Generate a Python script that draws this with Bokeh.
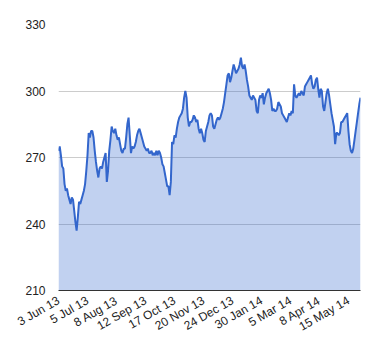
import math
from bokeh.plotting import figure
from bokeh.models import FixedTicker, Range1d, ColumnDataSource
from bokeh.embed import file_html
from bokeh.resources import INLINE

# Daily closes, 3 Jun 2013 .. 30 May 2014 (251 trading days)
prices = [
    273, 275, 271, 266, 265, 258, 255, 256, 253, 251, 249, 252, 251, 246, 241, 237, 243, 250, 249, 251, 253, 255, 258, 264,
    271, 281, 279, 282, 282, 279, 273, 268, 264, 261, 265, 266, 265, 268, 270, 272, 259, 264, 273, 278, 284, 282, 281, 283,
    280, 278, 279, 276, 273, 272, 274, 274, 279, 285, 288, 280, 272, 275, 274, 275, 277, 280, 282, 283, 281, 279, 277, 275,
    274, 273, 274, 272, 272, 273, 271, 272, 271, 273, 271, 273, 272, 270, 267, 266, 263, 260, 257, 257, 253, 259, 277, 276,
    280, 279, 283, 286, 288, 289, 290, 292, 297, 300, 297, 288, 284, 286, 286, 287, 289, 288, 286, 287, 283, 281, 283, 281,
    278, 277, 282, 284, 286, 289, 290, 289, 284, 283, 285, 287, 288, 287, 288, 290, 292, 295, 299, 303, 307, 308, 304, 306,
    309, 312, 310, 308, 309, 310, 312, 315, 311, 310, 312, 309, 305, 302, 298, 297, 296, 298, 297, 296, 291, 290, 296, 298,
    297, 299, 294, 297, 299, 300, 301, 299, 296, 291, 292, 291, 291, 292, 295, 294, 293, 290, 289, 288, 287, 286, 288, 290,
    289, 291, 290, 303, 298, 297, 298, 299, 298, 300, 299, 298, 302, 303, 304, 305, 306, 307, 303, 301, 302, 305, 306, 301,
    297, 301, 300, 293, 291, 295, 299, 301, 298, 294, 290, 287, 284, 276, 281, 281, 280, 281, 286, 286, 287, 288, 289, 290,
    282, 276, 273, 272, 274, 278, 282, 286, 290, 294, 297,
]
day_index = list(range(len(prices)))

tick_positions = [0, 24, 48, 72, 96, 120, 144, 168, 192, 216, 240]
tick_labels = ["3 Jun 13", "5 Jul 13", "8 Aug 13", "12 Sep 13", "17 Oct 13", "20 Nov 13",
               "24 Dec 13", "30 Jan 14", "5 Mar 14", "8 Apr 14", "15 May 14"]
y_ticks = [210, 240, 270, 300, 330]

src = ColumnDataSource(dict(x=day_index, y=prices, base=[y_ticks[0]] * len(prices)))

p = figure(width=372, height=352, output_backend="svg", toolbar_location=None,
           x_range=Range1d(0, len(prices) - 1), y_range=Range1d(y_ticks[0], y_ticks[-1]),
           min_border_left=58, min_border_right=12, min_border_top=24, min_border_bottom=62)
p.outline_line_color = None
p.background_fill_color = "white"
p.border_fill_color = "white"

p.varea(x="x", y1="base", y2="y", source=src, fill_color="#3366cc", fill_alpha=0.3)
p.line(x="x", y="y", source=src, line_color="#3366cc", line_width=2)

# y axis
p.yaxis.ticker = FixedTicker(ticks=y_ticks, minor_ticks=[])
p.yaxis.axis_line_color = None
p.yaxis.major_tick_line_color = None
p.yaxis.minor_tick_line_color = None
p.yaxis.major_tick_out = 0
p.yaxis.major_label_standoff = 13
p.yaxis.major_label_text_font = "Liberation Sans"
p.yaxis.major_label_text_font_size = "12px"
p.yaxis.major_label_text_color = "#222222"

p.ygrid.ticker = FixedTicker(ticks=y_ticks)
p.ygrid.grid_line_color = "#cccccc"
p.xgrid.grid_line_color = None

# x axis
p.xaxis.ticker = FixedTicker(ticks=tick_positions, minor_ticks=[])
p.xaxis.major_label_overrides = {t: l for t, l in zip(tick_positions, tick_labels)}
p.xaxis.major_label_orientation = math.pi / 6
p.xaxis.axis_line_color = "#333333"
p.xaxis.axis_line_width = 1
p.xaxis.major_tick_line_color = None
p.xaxis.minor_tick_line_color = None
p.xaxis.major_tick_out = 0
p.xaxis.major_label_standoff = 9
p.xaxis.major_label_text_font = "Liberation Sans"
p.xaxis.major_label_text_font_size = "12px"
p.xaxis.major_label_text_color = "#222222"

open("out.html", "w").write(file_html(p, INLINE))
